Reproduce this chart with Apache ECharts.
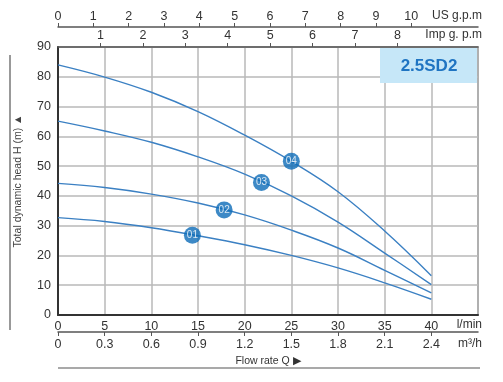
<!DOCTYPE html>
<html><head><meta charset="utf-8">
<script src="https://cdn.jsdelivr.net/npm/echarts@6/dist/echarts.min.js"></script>
<style>html,body{margin:0;padding:0;background:#fff}#c{width:503px;height:382px}</style>
</head><body><div id="c"></div>
<script>
// ---- data ----
const flowLmin = [0, 5, 10, 15, 20, 25, 30, 35, 40];
const head01 = [32.7, 31.4, 29.3, 26.6, 23.6, 20.0, 15.8, 10.8, 5.3];
const head02 = [44.2, 42.8, 40.6, 37.6, 33.6, 28.5, 22.5, 15.0, 7.4];
const head03 = [65.1, 61.8, 58.0, 53.1, 47.3, 40.0, 31.2, 20.8, 10.2];
const head04 = [84.0, 79.9, 74.8, 68.3, 60.4, 51.6, 41.4, 28.2, 13.2];
const markerFlow = [14.4, 17.8, 21.8, 25.0];
const markerHead = [26.8, 35.3, 44.5, 51.6];
const markerNames = ['01', '02', '03', '04'];
const lminTicks = [0, 5, 10, 15, 20, 25, 30, 35, 40];
const m3hTicks = [0, 0.3, 0.6, 0.9, 1.2, 1.5, 1.8, 2.1, 2.4];
const usTicks = [0, 1, 2, 3, 4, 5, 6, 7, 8, 9, 10];
const impTicks = [1, 2, 3, 4, 5, 6, 7, 8];
const headTicks = [0, 10, 20, 30, 40, 50, 60, 70, 80, 90];
const modelName = '2.5SD2';

const LMIN_MAX = 45;
const US_GAL = 3.78541, IMP_GAL = 4.54609;
const FONT = 'Liberation Sans';
const txt = '#333';
const lineCol = '#3b80c3';
const dotCol = '#0c6cb8';

const chart = echarts.init(document.getElementById('c'), null, {renderer: 'canvas'});

function curve(h) { return flowLmin.map((q, i) => [q, h[i]]); }

const baseLabel = {color: txt, fontFamily: FONT, fontSize: 12.5};

chart.setOption({
  animation: false,
  backgroundColor: '#fff',
  grid: {left: 58, right: 25, top: 47, bottom: 67, show: true, borderColor: '#555', borderWidth: 1.2},
  xAxis: [
    { // l/min bottom
      type: 'value', position: 'bottom', min: 0, max: LMIN_MAX, interval: 5,
      axisLine: {show: true, lineStyle: {color: '#333', width: 2}},
      axisTick: {show: false},
      axisLabel: Object.assign({}, baseLabel, {margin: 5, customValues: lminTicks}),
      splitLine: {show: true, lineStyle: {color: '#b9b9b9', width: 1.5}}
    },
    { // US gpm top
      type: 'value', position: 'top', offset: 20, min: 0, max: LMIN_MAX / US_GAL, interval: 1,
      axisLine: {show: true, onZero: false, lineStyle: {color: '#555', width: 1.5}},
      axisTick: {show: true, length: 4, customValues: usTicks, lineStyle: {color: '#555'}},
      axisLabel: Object.assign({}, baseLabel, {margin: 4, customValues: usTicks}),
      splitLine: {show: false}
    },
    { // Imp gpm top
      type: 'value', position: 'top', offset: 0, min: 0, max: LMIN_MAX / IMP_GAL, interval: 1,
      axisLine: {show: true, onZero: false, lineStyle: {color: '#555', width: 1.5}},
      axisTick: {show: true, length: 4, customValues: impTicks, lineStyle: {color: '#555'}},
      axisLabel: Object.assign({}, baseLabel, {margin: 5, customValues: impTicks}),
      splitLine: {show: false}
    },
    { // m3/h bottom
      type: 'value', position: 'bottom', offset: 17, min: 0, max: 2.7, interval: 0.3,
      axisLine: {show: true, onZero: false, lineStyle: {color: '#555', width: 1.5}},
      axisTick: {show: true, length: 4, customValues: m3hTicks, lineStyle: {color: '#555'}},
      axisLabel: Object.assign({}, baseLabel, {margin: 6, customValues: m3hTicks,
        formatter: v => v === 0 ? '0' : v.toFixed(1)}),
      splitLine: {show: false},
      name: 'Flow rate Q \u25B6', nameLocation: 'middle', nameGap: 20,
      nameTextStyle: {color: txt, fontFamily: FONT, fontSize: 10.5}
    }
  ],
  yAxis: {
    type: 'value', min: 0, max: 90, interval: 10,
    axisLine: {show: true, lineStyle: {color: '#333', width: 2}},
    axisTick: {show: false},
    axisLabel: Object.assign({}, baseLabel, {margin: 7, customValues: headTicks}),
    splitLine: {show: true, lineStyle: {color: '#b9b9b9', width: 1.5}},
    name: 'Total dynamic head H (m) \u25B2', nameLocation: 'middle', nameGap: 34, nameRotate: 90,
    nameTextStyle: {color: '#444', fontFamily: FONT, fontSize: 10.5}
  },
  series: [
    ...[head01, head02, head03, head04].map(h => ({
      type: 'line', xAxisIndex: 0, data: curve(h), smooth: 0.4, symbol: 'none',
      lineStyle: {color: lineCol, width: 1.4}, z: 3
    })),
    {
      type: 'scatter', xAxisIndex: 0, z: 5,
      data: markerFlow.map((q, i) => ({value: [q, markerHead[i]], name: markerNames[i]})),
      symbolSize: 17, itemStyle: {color: dotCol},
      label: {show: true, position: 'inside', formatter: p => p.name, color: '#fff',
        fontFamily: FONT, fontSize: 10}
    }
  ],
  graphic: [
    {type: 'rect', z: 100, shape: {x: 380, y: 48, width: 97, height: 35}, style: {fill: '#c6e7f8'}},
    {type: 'text', z: 101, x: 429, y: 66, style: {text: modelName, fill: '#1f74c2',
      font: 'bold 17px "Liberation Sans"', textAlign: 'center', textVerticalAlign: 'middle'}},
    {type: 'text', z: 101, x: 482, y: 16, style: {text: 'US g.p.m', fill: txt,
      font: '12px "Liberation Sans"', textAlign: 'right', textVerticalAlign: 'middle'}},
    {type: 'text', z: 101, x: 482, y: 35, style: {text: 'Imp g. p.m', fill: txt,
      font: '12px "Liberation Sans"', textAlign: 'right', textVerticalAlign: 'middle'}},
    {type: 'text', z: 101, x: 482, y: 325, style: {text: 'l/min', fill: txt,
      font: '12px "Liberation Sans"', textAlign: 'right', textVerticalAlign: 'middle'}},
    {type: 'text', z: 101, x: 482, y: 344, style: {text: 'm\u00B3/h', fill: txt,
      font: '12px "Liberation Sans"', textAlign: 'right', textVerticalAlign: 'middle'}},
    {type: 'line', z: 101, shape: {x1: 10, y1: 55, x2: 10, y2: 330}, style: {stroke: '#555', lineWidth: 1.2}},
    {type: 'line', z: 101, shape: {x1: 58, y1: 368, x2: 480, y2: 368}, style: {stroke: '#555', lineWidth: 1.2}}
  ]
});
</script>
</body></html>
